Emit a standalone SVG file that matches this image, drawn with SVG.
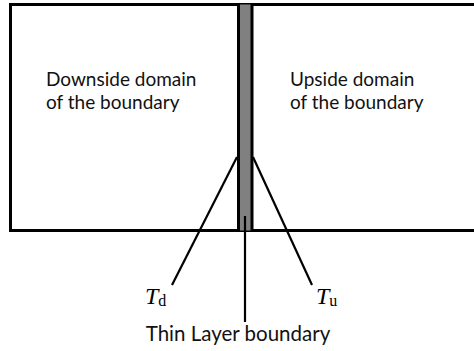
<svg xmlns="http://www.w3.org/2000/svg" width="474" height="351" viewBox="0 0 474 351">
<style>
.frame{fill:none;stroke:#000;stroke-width:3}
.edge{stroke:#000;stroke-width:3}
.con{stroke:#000;stroke-width:2.2;fill:none}
.lbl{font-family:Lato,"Open Sans",sans-serif;font-size:19px;fill:#111}
.math{font-family:"Liberation Serif",serif;fill:#000;font-size:24px}
.sub{font-size:16px;font-style:normal}
</style>
<g id="domain-frame">
<path class="frame" d="M480 4.5 H10.5 V230.5 H480"/>
</g>
<g id="downside-domain">
<text class="lbl" x="46" y="86">Downside domain</text>
<text class="lbl" x="46" y="109">of the boundary</text>
</g>
<g id="upside-domain">
<text class="lbl" x="290" y="86">Upside domain</text>
<text class="lbl" x="290" y="109">of the boundary</text>
</g>
<g id="thin-layer">
<rect x="238.5" y="4.5" width="13.5" height="226" fill="#808080"/>
<line class="edge" x1="238.5" y1="3" x2="238.5" y2="232"/>
<line class="edge" x1="252" y1="3" x2="252" y2="232"/>
</g>
<g id="connectors">
<line class="con" x1="237" y1="157" x2="172" y2="285"/>
<line class="con" x1="253" y1="157" x2="312" y2="285"/>
<line class="con" x1="245" y1="216" x2="245" y2="322"/>
</g>
<g id="label-Td">
<text class="math" x="145" y="304"><tspan font-style="italic">T</tspan><tspan class="sub" dy="2">d</tspan></text>
</g>
<g id="label-Tu">
<text class="math" x="316" y="304"><tspan font-style="italic">T</tspan><tspan class="sub" dy="2">u</tspan></text>
</g>
<g id="label-thin">
<text class="lbl" x="238" y="341" text-anchor="middle" style="font-size:20.5px">Thin Layer boundary</text>
</g>
</svg>
